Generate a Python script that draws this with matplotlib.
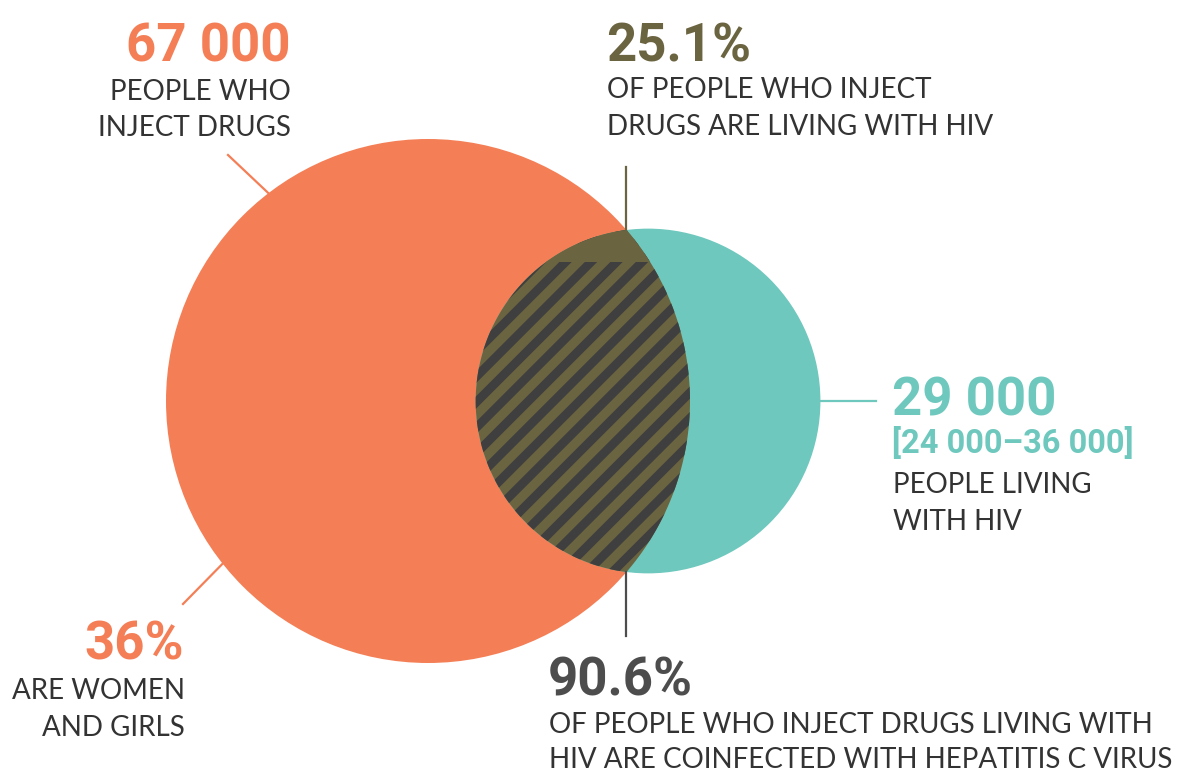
import numpy as np
import matplotlib
matplotlib.use("Agg")
import matplotlib.pyplot as plt
from matplotlib.patches import Circle, Polygon, Rectangle
from matplotlib import font_manager

# data
pwid = 67000            # people who inject drugs
plhiv = 29000           # people living with HIV
hiv_share = 25.1        # % of PWID living with HIV (the overlap)
hcv_share = 90.6        # % of that overlap coinfected with HCV
women_share = 36        # % women and girls

ORANGE = "#F47F56"
TEAL = "#6EC8BE"
OLIVE = "#6B6440"
STRIPE = "#3F3F3F"
DARK = "#333333"
GREY = "#4D4D4D"

installed = {f.name for f in font_manager.fontManager.ttflist}
NUM_FONT = [f for f in ["Roboto", "DejaVu Sans"] if f in installed]
TXT_FONT = [f for f in ["Lato", "Open Sans", "DejaVu Sans"] if f in installed]

fig = plt.figure(figsize=(11.81, 7.73), dpi=100)
ax = fig.add_axes([0, 0, 1, 1])
ax.set_xlim(0, 1181)
ax.set_ylim(773, 0)
ax.set_aspect("equal")
ax.axis("off")

# circle sizes proportional to area
k = 262 / np.sqrt(pwid)
r1 = k * np.sqrt(pwid)
r2 = k * np.sqrt(plhiv)
cx1, cy = 428, 401

ys = np.linspace(cy - r2, cy + r2, 4001)
dy = ys[1] - ys[0]


def lens_width(d):
    xr = cx1 + np.sqrt(np.clip(r1**2 - (ys - cy)**2, 0, None))
    xl = cx1 + d - np.sqrt(np.clip(r2**2 - (ys - cy)**2, 0, None))
    return np.clip(xr - xl, 0, None)


# centre distance so that the overlap is hiv_share of the big circle
target = hiv_share / 100 * np.pi * r1**2
lo, hi = r1 - r2, r1 + r2
for _ in range(60):
    mid = (lo + hi) / 2
    if lens_width(mid).sum() * dy > target:
        lo = mid
    else:
        hi = mid
d = (lo + hi) / 2
cx2 = cx1 + d

# intersection points
xi = (r1**2 - r2**2 + cx2**2 - cx1**2) / (2 * d)
yi = np.sqrt(r1**2 - (xi - cx1)**2)

# hatched part takes hcv_share of the overlap's height
cut_y = (cy + yi) - hcv_share / 100 * (2 * yi)

ax.add_patch(Circle((cx1, cy), r1, color=ORANGE, lw=0, zorder=2))
ax.add_patch(Circle((cx2, cy), r2, color=TEAL, lw=0, zorder=2))

# lens polygon
a1 = np.arctan2(yi, xi - cx1)
t1 = np.linspace(-a1, a1, 200)
a2 = np.arctan2(yi, xi - cx2)
t2 = np.linspace(a2, 2 * np.pi - a2, 200)
pts = np.vstack([
    np.column_stack([cx1 + r1 * np.cos(t1), cy + r1 * np.sin(t1)]),
    np.column_stack([cx2 + r2 * np.cos(t2), cy + r2 * np.sin(t2)]),
])
lens = Polygon(pts, closed=True, color=OLIVE, lw=0, zorder=3)
ax.add_patch(lens)

# diagonal stripes on the coinfected part
for c in np.arange(700, 1500, 25.5):
    xs = np.array([300, 900])
    ln, = ax.plot(xs, c - xs, color=STRIPE, lw=6.3, solid_capstyle="butt", zorder=4)
    ln.set_clip_path(lens)
top = Rectangle((300, 0), 600, cut_y, color=OLIVE, lw=0, zorder=5)
ax.add_patch(top)
top.set_clip_path(lens)

# leader lines
ax.plot([228, 300], [155, 223], color=ORANGE, lw=1.6, zorder=1)
ax.plot([183, 240], [604, 546], color=ORANGE, lw=1.6, zorder=1)
ax.plot([xi, xi], [167, cy - yi], color=OLIVE, lw=1.6, zorder=6)
ax.plot([xi, xi], [cy + yi, 636], color=GREY, lw=1.6, zorder=6)
ax.plot([cx2 + r2 - 2, 876], [cy, cy], color=TEAL, lw=1.6, zorder=1)


def big(x, y, s, color, ha="left", size=38):
    ax.text(x, y, s, color=color, ha=ha, va="baseline", fontsize=size,
            fontweight="bold", family=NUM_FONT)


def body(x, y, s, ha="left"):
    ax.text(x, y, s, color=DARK, ha=ha, va="baseline", fontsize=20,
            family=TXT_FONT)


big(291, 62, f"{pwid:,}".replace(",", " "), ORANGE, ha="right")
body(291, 100, "PEOPLE WHO", ha="right")
body(291, 136, "INJECT DRUGS", ha="right")

big(606, 61, f"{hiv_share}%", OLIVE)
body(607, 98, "OF PEOPLE WHO INJECT")
body(607, 135, "DRUGS ARE LIVING WITH HIV")

big(892, 416, f"{plhiv:,}".replace(",", " "), TEAL)
big(892, 453, "[24 000–36 000]", TEAL, size=23.5)
body(893, 493, "PEOPLE LIVING")
body(893, 530, "WITH HIV")

big(184, 659, f"{women_share}%", ORANGE, ha="right")
body(185, 699, "ARE WOMEN", ha="right")
body(185, 736, "AND GIRLS", ha="right")

big(548, 696, f"{hcv_share}%", GREY)
body(549, 733, "OF PEOPLE WHO INJECT DRUGS LIVING WITH")
body(549, 768, "HIV ARE COINFECTED WITH HEPATITIS C VIRUS")

fig.savefig("out.png", dpi=100, facecolor="white")
